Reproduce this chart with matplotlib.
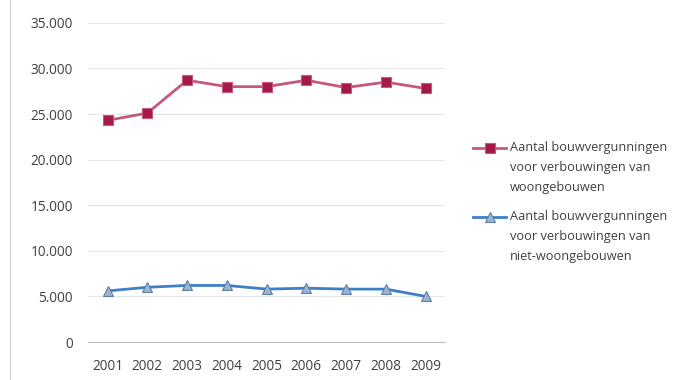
# bouwvergunningen voor verbouwingen, 2001-2009

import numpy as np
import matplotlib.pyplot as plt
from matplotlib.lines import Line2D
from matplotlib.legend_handler import HandlerLine2D

plt.rcParams['font.family'] = ['Open Sans', 'DejaVu Sans']

# data
jaren = ["2001", "2002", "2003", "2004", "2005", "2006", "2007", "2008", "2009"]
woon = [24300, 25100, 28700, 28000, 28000, 28700, 27900, 28500, 27800]
niet_woon = [5600, 6000, 6200, 6200, 5800, 5900, 5800, 5800, 5000]
labels = ["Aantal bouwvergunningen\nvoor verbouwingen van\nwoongebouwen",
          "Aantal bouwvergunningen\nvoor verbouwingen van\nniet-woongebouwen"]
yticks = [0, 5000, 10000, 15000, 20000, 25000, 30000, 35000]


# legend handle next to the first text line (like Excel does)
class HandlerTop(HandlerLine2D):
    def create_artists(self, legend, orig_handle, xdescent, ydescent,
                       width, height, fontsize, trans):
        shift = 1.55 * fontsize
        return super().create_artists(legend, orig_handle, xdescent,
                                      ydescent - 2 * shift, width, height,
                                      fontsize, trans)


fig = plt.figure(figsize=(6.96, 3.8), dpi=100)
ax = fig.add_axes([0.126, 0.1, 0.514, 0.84])

x = np.arange(len(jaren))
ax.plot(x, woon, color="#c8587a", lw=2, marker="s", ms=7.5,
        mfc="#a3194a", mec="#c8587a", mew=0.8, label=labels[0])
ax.plot(x, niet_woon, color="#3f7fc8", lw=2, marker="^", ms=7.5,
        mfc="#9fb3cc", mec="#5d7fa8", mew=0.8, label=labels[1])

ax.set_xlim(-0.5, len(jaren) - 0.5)
ax.set_ylim(0, 35000)
ax.set_xticks(x)
ax.set_xticklabels(jaren)
ax.set_yticks(yticks)
ax.set_yticklabels(["{:,}".format(v).replace(",", ".") for v in yticks])
ax.grid(axis="y", color="#e6e6e6", lw=0.8)
ax.set_axisbelow(True)
for s in ["top", "right", "left"]:
    ax.spines[s].set_visible(False)
ax.spines["bottom"].set_color("#bfbfbf")
ax.tick_params(length=0, labelsize=9.8, colors="#404040")
ax.tick_params(axis="x", pad=12)
ax.tick_params(axis="y", pad=10.5)

leg = ax.legend(loc="center left", bbox_to_anchor=(1.045, 0.44), frameon=False,
                fontsize=9.2, labelspacing=1.25, handlelength=2.6,
                handletextpad=0.3, labelcolor="#404040",
                handler_map={Line2D: HandlerTop()})
for t in leg.get_texts():
    t.set_linespacing(1.7)

# thin frame line at the left edge
fig.add_artist(plt.Line2D([0.015, 0.015], [0.0, 1.0], color="#d0d0d0", lw=0.8))

plt.savefig("out.png", dpi=100)
